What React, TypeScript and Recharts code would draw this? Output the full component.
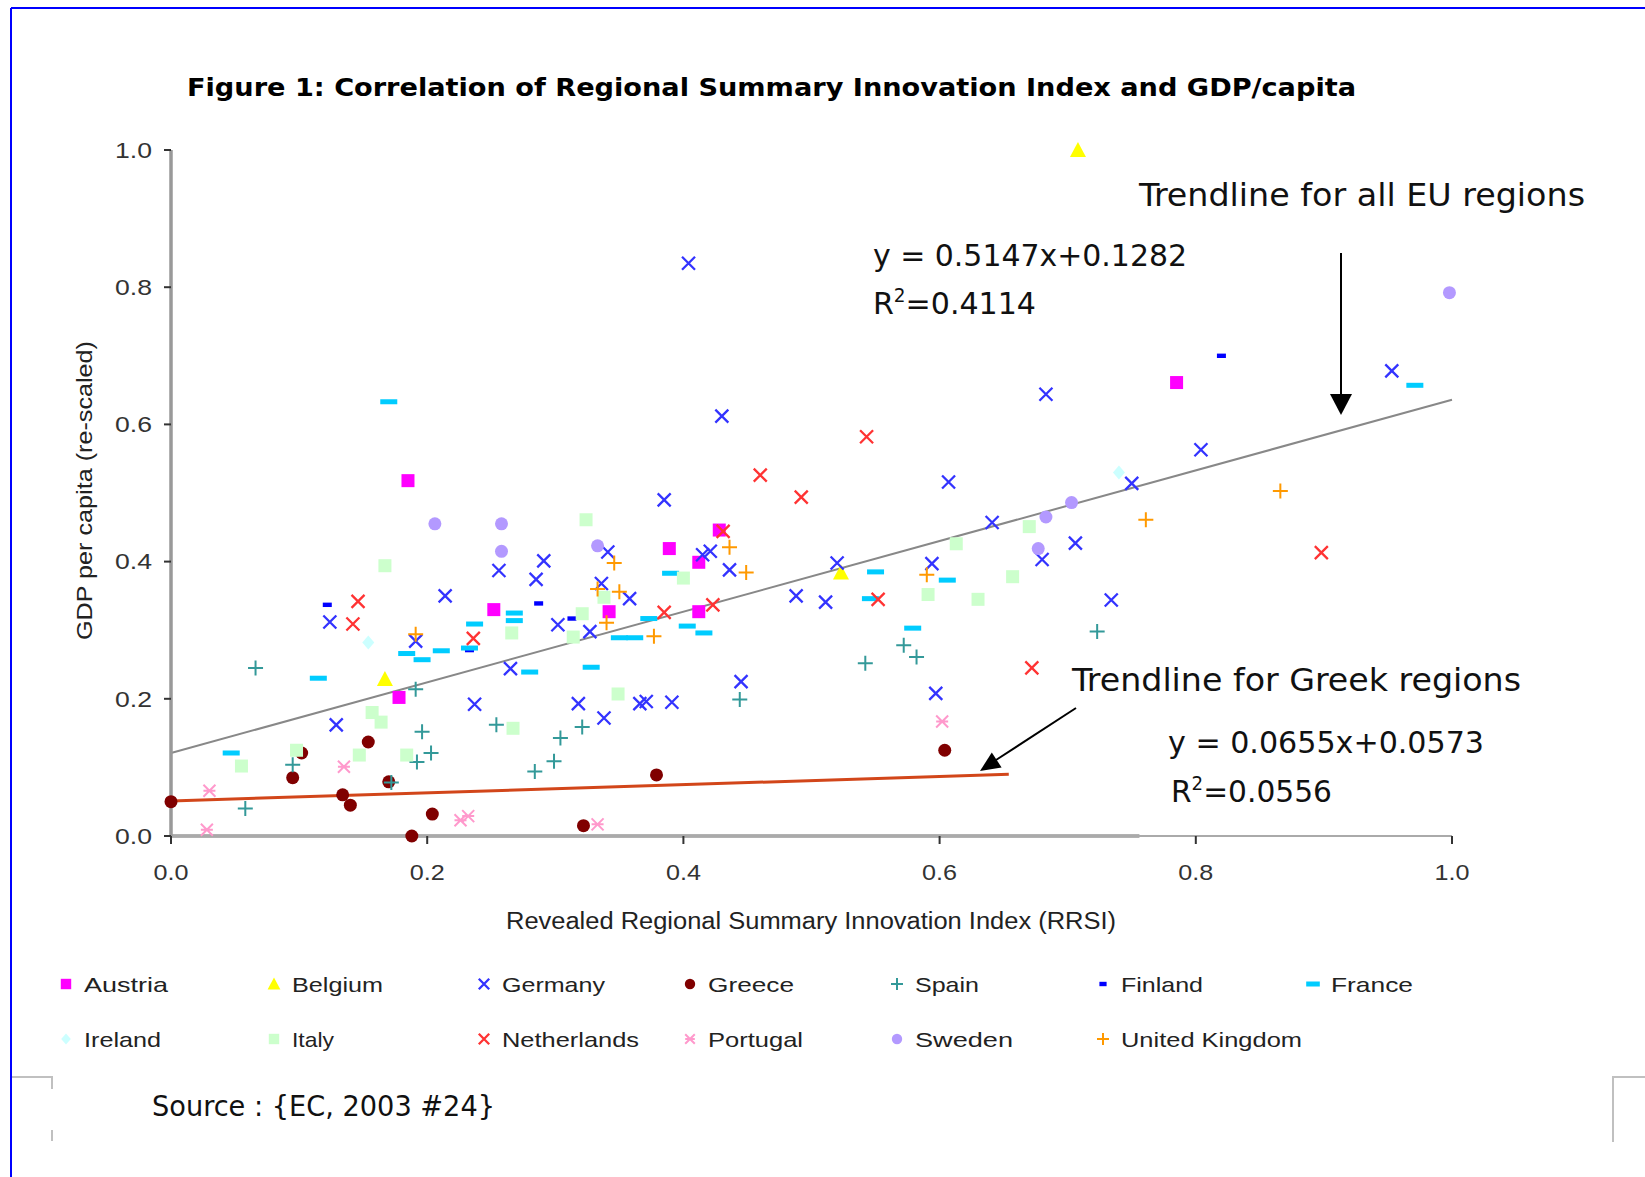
import React from 'react';
import { ScatterChart, Scatter, XAxis, YAxis, ReferenceLine } from 'recharts';

// ---------- data (x = RRSI, y = GDP per capita, re-scaled) ----------
const austria = [[0.185,0.518],[0.178,0.202],[0.252,0.330],[0.342,0.327],[0.389,0.419],[0.412,0.399],[0.412,0.327],[0.428,0.446],[0.785,0.661]];
const belgium = [[0.708,1.0],[0.167,0.229],[0.523,0.384]];
const germany = [[0.404,0.835],[0.430,0.612],[0.385,0.490],[0.256,0.387],[0.285,0.374],[0.291,0.401],[0.214,0.350],[0.124,0.312],[0.191,0.284],[0.265,0.244],[0.237,0.192],[0.129,0.162],[0.302,0.308],[0.327,0.298],[0.341,0.414],[0.336,0.368],[0.358,0.346],[0.415,0.410],[0.421,0.415],[0.436,0.388],[0.520,0.398],[0.488,0.350],[0.511,0.341],[0.318,0.193],[0.338,0.172],[0.366,0.193],[0.371,0.196],[0.391,0.195],[0.445,0.225],[0.683,0.644],[0.953,0.678],[0.804,0.563],[0.607,0.516],[0.641,0.457],[0.750,0.514],[0.594,0.397],[0.680,0.403],[0.706,0.427],[0.734,0.344],[0.597,0.208]];
const greece = [[0.0,0.050],[0.102,0.121],[0.095,0.085],[0.154,0.137],[0.134,0.060],[0.140,0.045],[0.170,0.079],[0.204,0.032],[0.188,0.0],[0.379,0.089],[0.322,0.015],[0.604,0.125]];
const spain = [[0.066,0.245],[0.058,0.040],[0.095,0.104],[0.191,0.214],[0.196,0.152],[0.203,0.121],[0.192,0.108],[0.172,0.078],[0.254,0.162],[0.284,0.094],[0.299,0.109],[0.304,0.143],[0.321,0.159],[0.444,0.199],[0.542,0.252],[0.572,0.278],[0.582,0.261],[0.723,0.298]];
const finland = [[0.122,0.337],[0.287,0.339],[0.233,0.271],[0.313,0.317],[0.820,0.700]];
const france = [[0.170,0.633],[0.047,0.121],[0.115,0.230],[0.184,0.266],[0.196,0.257],[0.211,0.270],[0.233,0.274],[0.237,0.309],[0.268,0.325],[0.268,0.314],[0.280,0.239],[0.328,0.246],[0.350,0.289],[0.362,0.289],[0.373,0.317],[0.390,0.383],[0.403,0.306],[0.416,0.296],[0.550,0.385],[0.546,0.346],[0.579,0.303],[0.606,0.373],[0.971,0.657]];
const ireland = [[0.154,0.282],[0.740,0.530]];
const italy = [[0.167,0.394],[0.055,0.102],[0.098,0.125],[0.147,0.118],[0.157,0.180],[0.164,0.166],[0.184,0.118],[0.266,0.296],[0.267,0.157],[0.314,0.290],[0.321,0.324],[0.338,0.348],[0.324,0.461],[0.349,0.207],[0.400,0.376],[0.591,0.352],[0.613,0.426],[0.630,0.345],[0.657,0.378],[0.670,0.451]];
const netherlands = [[0.146,0.342],[0.142,0.309],[0.236,0.288],[0.543,0.582],[0.460,0.526],[0.492,0.494],[0.431,0.444],[0.423,0.337],[0.385,0.326],[0.552,0.345],[0.672,0.245],[0.898,0.413]];
const portugal = [[0.030,0.066],[0.028,0.009],[0.135,0.101],[0.226,0.023],[0.232,0.029],[0.333,0.017],[0.602,0.167]];
const sweden = [[0.206,0.455],[0.258,0.455],[0.258,0.415],[0.333,0.423],[0.677,0.419],[0.683,0.465],[0.703,0.486],[0.998,0.792]];
const unitedKingdom = [[0.191,0.294],[0.333,0.360],[0.346,0.398],[0.350,0.356],[0.340,0.311],[0.377,0.291],[0.436,0.421],[0.449,0.384],[0.590,0.381],[0.761,0.461],[0.866,0.503]];

const euTrend = [[0, 0.121], [1.0, 0.636]];
const greekTrend = [[0, 0.051], [0.654, 0.090]];

const axisTicks = [0, 0.2, 0.4, 0.6, 0.8, 1.0];

type Kind = 'square' | 'triangle' | 'x' | 'circle' | 'plus' | 'dash' | 'smalldash' | 'diamond' | 'asterisk';

const seriesList: { name: string; data: number[][]; kind: Kind; color: string }[] = [
  { name: 'Austria', data: austria, kind: 'square', color: '#FF00FF' },
  { name: 'Belgium', data: belgium, kind: 'triangle', color: '#FFFF00' },
  { name: 'Germany', data: germany, kind: 'x', color: '#3333FF' },
  { name: 'Greece', data: greece, kind: 'circle', color: '#800000' },
  { name: 'Spain', data: spain, kind: 'plus', color: '#339999' },
  { name: 'Finland', data: finland, kind: 'smalldash', color: '#0000FF' },
  { name: 'France', data: france, kind: 'dash', color: '#00CCFF' },
  { name: 'Ireland', data: ireland, kind: 'diamond', color: '#CCFFFF' },
  { name: 'Italy', data: italy, kind: 'square', color: '#CCFFCC' },
  { name: 'Netherlands', data: netherlands, kind: 'x', color: '#FF3333' },
  { name: 'Portugal', data: portugal, kind: 'asterisk', color: '#FF99CC' },
  { name: 'Sweden', data: sweden, kind: 'circle', color: '#B399FF' },
  { name: 'United Kingdom', data: unitedKingdom, kind: 'plus', color: '#FF9900' },
];

function Marker({ kind, color, cx, cy, s = 1 }: { kind: Kind; color: string; cx: number; cy: number; s?: number }) {
  if (cx == null || cy == null || isNaN(cx) || isNaN(cy)) return null;
  switch (kind) {
    case 'square':
      return <rect x={cx - 6.5 * s} y={cy - 6.5 * s} width={13 * s} height={13 * s} fill={color} />;
    case 'triangle':
      return <polygon points={`${cx},${cy - 8 * s} ${cx + 8 * s},${cy + 7 * s} ${cx - 8 * s},${cy + 7 * s}`} fill={color} />;
    case 'x': {
      const d = 6.5 * s;
      return <path d={`M${cx - d},${cy - d}L${cx + d},${cy + d}M${cx + d},${cy - d}L${cx - d},${cy + d}`} stroke={color} strokeWidth={2.3} fill="none" />;
    }
    case 'asterisk': {
      const d = 6 * s;
      return <path d={`M${cx - d},${cy - d}L${cx + d},${cy + d}M${cx + d},${cy - d}L${cx - d},${cy + d}M${cx - d},${cy}L${cx + d},${cy}`} stroke={color} strokeWidth={2} fill="none" />;
    }
    case 'circle':
      return <circle cx={cx} cy={cy} r={6.5 * s} fill={color} />;
    case 'plus': {
      const d = 7.5 * s;
      return <path d={`M${cx - d},${cy}L${cx + d},${cy}M${cx},${cy - d}L${cx},${cy + d}`} stroke={color} strokeWidth={2} fill="none" />;
    }
    case 'dash':
      return <rect x={cx - 8.5 * s} y={cy - 2.5} width={17 * s} height={5} fill={color} />;
    case 'smalldash':
      return <rect x={cx - 4.5 * s} y={cy - 2.2} width={9 * s} height={4.4} fill={color} />;
    case 'diamond':
      return <polygon points={`${cx},${cy - 7 * s} ${cx + 6 * s},${cy} ${cx},${cy + 7 * s} ${cx - 6 * s},${cy}`} fill={color} />;
  }
  return null;
}

const toPts = (arr: number[][]) => arr.map(([x, y]) => ({ x, y }));

const XTick = (props: any) => {
  const { x, y, payload } = props;
  return (
    <text x={x - 17.5} y={y} dy="0.71em" fontFamily="'Liberation Sans', Arial, sans-serif" fontSize={22} fill="#333" textLength={35} lengthAdjust="spacingAndGlyphs">
      {Number(payload.value).toFixed(1)}
    </text>
  );
};
const YTick = (props: any) => {
  const { x, y, payload } = props;
  return (
    <text x={x - 37} y={y} dy="0.355em" fontFamily="'Liberation Sans', Arial, sans-serif" fontSize={22} fill="#333" textLength={37} lengthAdjust="spacingAndGlyphs">
      {Number(payload.value).toFixed(1)}
    </text>
  );
};

const legendRow1 = ['Austria', 'Belgium', 'Germany', 'Greece', 'Spain', 'Finland', 'France'];
const legendRow2 = ['Ireland', 'Italy', 'Netherlands', 'Portugal', 'Sweden', 'United Kingdom'];
const legendTextX = [84, 292, 502, 708, 915, 1121, 1331];
const legendWidths: Record<string, number> = {
  Austria: 84, Belgium: 91, Germany: 103, Greece: 86, Spain: 64, Finland: 82, France: 82,
  Ireland: 77, Italy: 42, Netherlands: 137, Portugal: 95, Sweden: 98, 'United Kingdom': 181,
};

export default function App() {
  const cond = "'DejaVu Sans Condensed', 'DejaVu Sans', sans-serif";
  const sans = "'Liberation Sans', Arial, sans-serif";
  return (
    <div style={{ position: 'absolute', left: 0, top: 0, width: 1645, height: 1177, background: '#fff', overflow: 'hidden' }}>
      <div style={{ position: 'absolute', left: 0, top: 0 }}>
        <ScatterChart width={1645} height={1177} margin={{ top: 150, right: 193, bottom: 311, left: 111 }}>
          <XAxis
            type="number"
            dataKey="x"
            domain={[0, 1]}
            ticks={axisTicks}
            height={30}
            axisLine={{ stroke: '#aaaaaa', strokeWidth: 2 }}
            tickLine={{ stroke: '#333', strokeWidth: 2 }}
            tickSize={8}
            tickMargin={20}
            tick={XTick}
            interval={0}
          />
          <YAxis
            type="number"
            dataKey="y"
            domain={[0, 1]}
            ticks={axisTicks}
            width={60}
            axisLine={{ stroke: '#999999', strokeWidth: 3.5 }}
            tickLine={{ stroke: '#333', strokeWidth: 2 }}
            tickSize={7}
            tickMargin={12}
            tick={YTick}
            interval={0}
          />
          <ReferenceLine segment={[{ x: 0, y: 0 }, { x: 0.756, y: 0 }]} stroke="#999999" strokeWidth={3.5} />
          {seriesList.map((s) => (
            <Scatter
              key={s.name}
              name={s.name}
              data={toPts(s.data)}
              isAnimationActive={false}
              shape={(p: any) => <Marker kind={s.kind} color={s.color} cx={p.cx} cy={p.cy} />}
            />
          ))}
          <ReferenceLine
            segment={[{ x: euTrend[0][0], y: euTrend[0][1] }, { x: euTrend[1][0], y: euTrend[1][1] }]}
            stroke="#888888"
            strokeWidth={2}
          />
          <ReferenceLine
            segment={[{ x: greekTrend[0][0], y: greekTrend[0][1] }, { x: greekTrend[1][0], y: greekTrend[1][1] }]}
            stroke="#D2461A"
            strokeWidth={3}
          />
        </ScatterChart>
      </div>
      <svg width={1645} height={1177} style={{ position: 'absolute', left: 0, top: 0, pointerEvents: 'none' }}>
        {/* frame */}
        <line x1={11} y1={8} x2={1645} y2={8} stroke="#0000FF" strokeWidth={2} />
        <line x1={11} y1={8} x2={11} y2={1177} stroke="#0000FF" strokeWidth={2} />
        <polyline points="12,1077 52,1077 52,1089" fill="none" stroke="#c0c0c0" strokeWidth={2} />
        <line x1={52} y1={1130} x2={52} y2={1141} stroke="#c0c0c0" strokeWidth={2} />
        <polyline points="1645,1077 1613,1077 1613,1142" fill="none" stroke="#c0c0c0" strokeWidth={2} />

        {/* title */}
        <text x={187} y={96} fontFamily="'DejaVu Sans', sans-serif" fontWeight="bold" fontSize={24} fill="#000" textLength={1169} lengthAdjust="spacingAndGlyphs">
          Figure 1: Correlation of Regional Summary Innovation Index and GDP/capita
        </text>

        {/* axis titles */}
        <text x={506} y={929} fontFamily={sans} fontSize={23} fill="#222" textLength={610} lengthAdjust="spacingAndGlyphs">
          Revealed Regional Summary Innovation Index (RRSI)
        </text>
        <text x={92} y={640} transform="rotate(-90 92 640)" fontFamily={sans} fontSize={22} fill="#222" textLength={299} lengthAdjust="spacingAndGlyphs">
          GDP per capita (re-scaled)
        </text>

        {/* annotations */}
        <text x={1139} y={206} fontFamily={cond} fontSize={32} fill="#111" textLength={446} lengthAdjust="spacingAndGlyphs">
          Trendline for all EU regions
        </text>
        <text x={873} y={266} fontFamily={cond} fontSize={31} fill="#111" textLength={314} lengthAdjust="spacingAndGlyphs">
          y = 0.5147x+0.1282
        </text>
        <text x={873} y={314} fontFamily={cond} fontSize={31} fill="#111" textLength={163} lengthAdjust="spacingAndGlyphs">
          R<tspan fontSize={19} dy={-12}>2</tspan><tspan dy={12}>=0.4114</tspan>
        </text>
        <line x1={1341} y1={253} x2={1341} y2={396} stroke="#000" strokeWidth={2} />
        <polygon points="1330,394 1352,394 1341,415" fill="#000" />

        <text x={1072} y={691} fontFamily={cond} fontSize={32} fill="#111" textLength={449} lengthAdjust="spacingAndGlyphs">
          Trendline for Greek regions
        </text>
        <text x={1168} y={753} fontFamily={cond} fontSize={31} fill="#111" textLength={316} lengthAdjust="spacingAndGlyphs">
          y = 0.0655x+0.0573
        </text>
        <text x={1171} y={802} fontFamily={cond} fontSize={31} fill="#111" textLength={161} lengthAdjust="spacingAndGlyphs">
          R<tspan fontSize={19} dy={-12}>2</tspan><tspan dy={12}>=0.0556</tspan>
        </text>
        <line x1={1076} y1={708} x2={996} y2={760} stroke="#000" strokeWidth={2} />
        <polygon points="980,771 1001.6,767.5 991.8,752.5" fill="#000" />

        {/* legend */}
        {[legendRow1, legendRow2].map((row, ri) =>
          row.map((name, i) => {
            const s = seriesList.find((q) => q.name === name)!;
            const cy = ri === 0 ? 984 : 1039;
            const tx = legendTextX[i];
            return (
              <g key={name}>
                <Marker kind={s.kind} color={s.color} cx={tx - 18} cy={cy} s={0.8} />
                <text x={tx} y={cy + 8} fontFamily={sans} fontSize={21} fill="#222" textLength={legendWidths[name]} lengthAdjust="spacingAndGlyphs">
                  {name}
                </text>
              </g>
            );
          })
        )}

        {/* source */}
        <text x={152} y={1116} fontFamily={cond} fontSize={29} fill="#111" textLength={343} lengthAdjust="spacingAndGlyphs">
          Source : {'{'}EC, 2003 #24{'}'}
        </text>
      </svg>
    </div>
  );
}
